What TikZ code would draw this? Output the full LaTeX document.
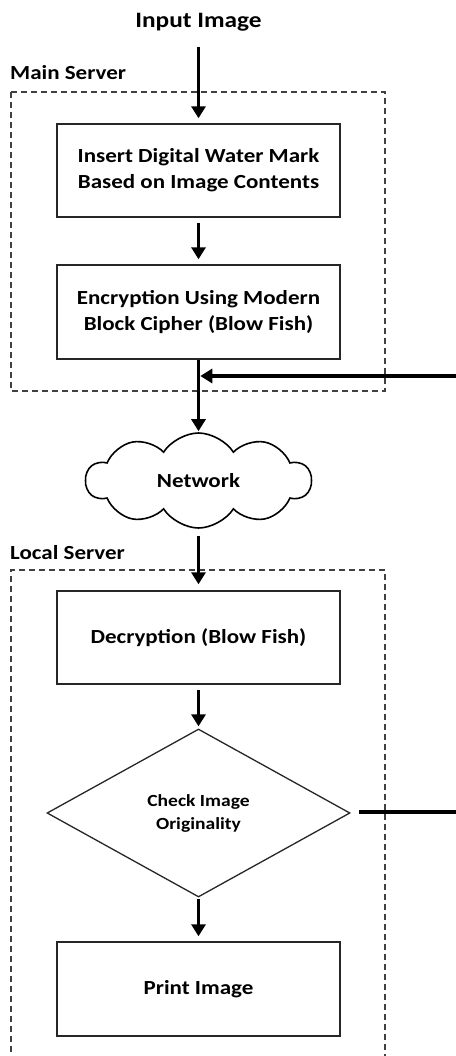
\documentclass[tikz,border=0pt]{standalone}
\usepackage{fontspec}
\setmainfont{Carlito}[FakeStretch=1.15]
\usetikzlibrary{arrows.meta,shapes.geometric,shapes.symbols}
\begin{document}
\begin{tikzpicture}[x=1pt,y=-1pt,
  procbox/.style={draw=black!85, line width=1.4pt, minimum width=283pt, minimum height=93pt,
    align=center, inner sep=0pt, font=\bfseries\fontsize{20}{26}\selectfont},
  decbox/.style={draw=black!85, line width=1.3pt, shape=diamond, minimum width=303pt, minimum height=168pt,
    align=center, inner sep=0pt, font=\bfseries\fontsize{17}{23}\selectfont},
  netcloud/.style={draw=black, line width=1.6pt, shape=cloud, cloud puffs=10, cloud puff arc=115,
    aspect=2.4, minimum width=225pt, minimum height=95pt, inner sep=0pt,
    font=\bfseries\fontsize{20}{24}\selectfont},
  lbl/.style={inner sep=0pt, font=\bfseries\fontsize{20}{24}\selectfont},
  arr/.style={line width=3.5pt, -{Triangle[width=14pt,length=12pt]}},
  wire/.style={line width=3.5pt},
  dashbox/.style={draw=black!75, line width=1.5pt, dash pattern=on 6pt off 4pt}
]
\useasboundingbox (0,0) rectangle (455,1056);

% dashed server frames
\draw[dashbox] (11,92) rectangle (385,391);
\draw[dashbox] (11,1062) -- (11,570) -- (385,570) -- (385,1062);

% labels
\node[lbl, font=\bfseries\fontsize{22}{26}\selectfont] (inp) at (198.5,22) {Input Image};
\node[lbl, anchor=west] (mainlbl) at (10,73) {Main Server};
\node[lbl, anchor=west] (loclbl) at (10,553) {Local Server};

% process nodes
\node[procbox] (box1) at (198.5,170.5) {Insert Digital Water Mark\\Based on Image Contents};
\node[procbox, minimum height=94pt] (box2) at (198.5,312) {Encryption Using Modern\\Block Cipher (Blow Fish)};
\node[netcloud] (net) at (198.5,480.5) {Network};
\node[procbox] (dec) at (198.5,637.5) {Decryption (Blow Fish)};
\node[decbox] (chk) at (198.5,813) {Check Image\\Originality};
\node[procbox, minimum height=94pt] (prt) at (198.5,989) {Print Image};

% outside ends
\coordinate (outA) at (460,376);
\coordinate (outB) at (460,812);

% connectors
\draw[arr] ([yshift=-15.5pt]inp.south) -- ([yshift=5pt]box1.north);
\draw[arr] ([yshift=-5pt]box1.south) -- ([yshift=5pt]box2.north);
\draw[arr] (box2.south) -- ([yshift=1pt]net.north);
\draw[arr] (outA) -- ([xshift=1.8pt]box2.south |- outA);
\draw[arr] ([yshift=-7pt]net.south) -- ([yshift=6pt]dec.north);
\draw[arr] ([yshift=-5pt]dec.south) -- ([yshift=2pt]chk.north);
\draw[arr] ([yshift=-1pt]chk.south) -- ([yshift=5pt]prt.north);
\draw[wire] ([xshift=8pt,yshift=1pt]chk.east) -- (outB);
\end{tikzpicture}
\end{document}
